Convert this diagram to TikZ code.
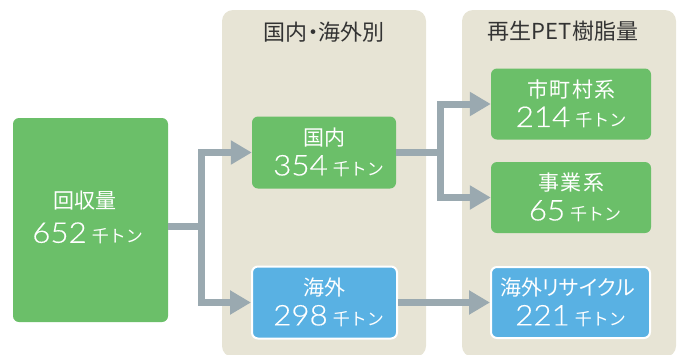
\documentclass[tikz,border=0pt]{standalone}
\usepackage{fontspec}
\setmainfont{Noto Sans CJK JP}
\newfontfamily\numfont{Lato Light}[FakeStretch=1.1,FakeBold=0.4]
\usetikzlibrary{arrows.meta}
\definecolor{boxgreen}{HTML}{6BBF69}
\definecolor{boxblue}{HTML}{59B1E3}
\definecolor{panelbeige}{HTML}{E7E4D5}
\definecolor{conngray}{HTML}{9AA9B0}
\definecolor{titlegray}{HTML}{333333}
\newcommand\mynum[1]{{\numfont\fontsize{28.5}{29.5}\selectfont #1}\hspace{5pt}{\fontsize{17}{29.5}\selectfont 千トン}}
\tikzset{
  panelbox/.style={fill=panelbeige, rounded corners=11pt},
  paneltitle/.style={text=titlegray, font=\fontsize{22}{26}\selectfont, inner sep=0pt},
  greenbox/.style={fill=boxgreen, rounded corners=6pt, text=white, align=center, inner sep=0pt, font=\fontsize{21}{29.5}\selectfont},
  bluebox/.style={fill=boxblue, draw=white, line width=2pt, rounded corners=6pt, text=white, align=center, inner sep=0pt, font=\fontsize{21}{29.5}\selectfont},
  connline/.style={draw=conngray, line width=7pt},
  connarrow/.style={connline, -{Triangle[length=21pt,width=23pt]}},
}
\begin{document}
\begin{tikzpicture}[x=1pt,y=-1pt]
\useasboundingbox (0,0) rectangle (677,354);
% panels
\path[panelbox] (222,10) rectangle (426,357);
\path[panelbox] (462,10) rectangle (676,357);
\node[paneltitle] (t1) at (324,32) {国内\kern-5.5pt・\kern-5.5pt海外別};
\node[paneltitle] (t2) at (563,31.5) {再生PET樹脂量};
% boxes
\node[greenbox, minimum width=155pt, minimum height=204pt] (col) at (90.5,220) {回収量\hspace*{12pt}\\[4.5pt]\mynum{652}\hspace*{6pt}\rule[-6pt]{0pt}{0pt}};
\node[greenbox, minimum width=144pt, minimum height=72pt] (dom) at (324,152.5) {国内\\\hspace*{9pt}\mynum{354}};
\node[bluebox, minimum width=145pt, minimum height=72pt] (ovs) at (324.5,302.5) {海外\\\hspace*{8pt}\mynum{298}};
\node[greenbox, minimum width=160pt, minimum height=71pt] (mun) at (571,104) {\kern1pt 市\kern1.5pt 町\kern1.5pt 村\kern1.5pt 系\\\mynum{214}};
\node[greenbox, minimum width=160pt, minimum height=71pt] (biz) at (571,197.5) {\kern1pt 事\kern1.5pt 業\kern1.5pt 系\\\hspace*{8pt}\mynum{65}};
\node[bluebox, minimum width=159pt, minimum height=71pt] (ovr) at (570.5,302.5) {{\addfontfeature{RawFeature=+palt}海外リサイクル}\hspace*{6pt}\\\mynum{221}};
% connectors
\coordinate (j1) at (201.5,226.5);
\coordinate (k2) at (440.5,0);
\draw[connline] (col.east |- j1) -- (j1);
\draw[connarrow] (j1) |- (dom.west);
\draw[connarrow] (j1) |- (ovs.west);
\draw[connline] (dom.east) -- (dom.east -| k2);
\draw[connarrow] (dom.east -| k2) |- (mun.west);
\draw[connarrow] (dom.east -| k2) |- (biz.west);
\draw[connarrow] (ovs.east) -- (ovs.east -| ovr.west);
\end{tikzpicture}
\end{document}
